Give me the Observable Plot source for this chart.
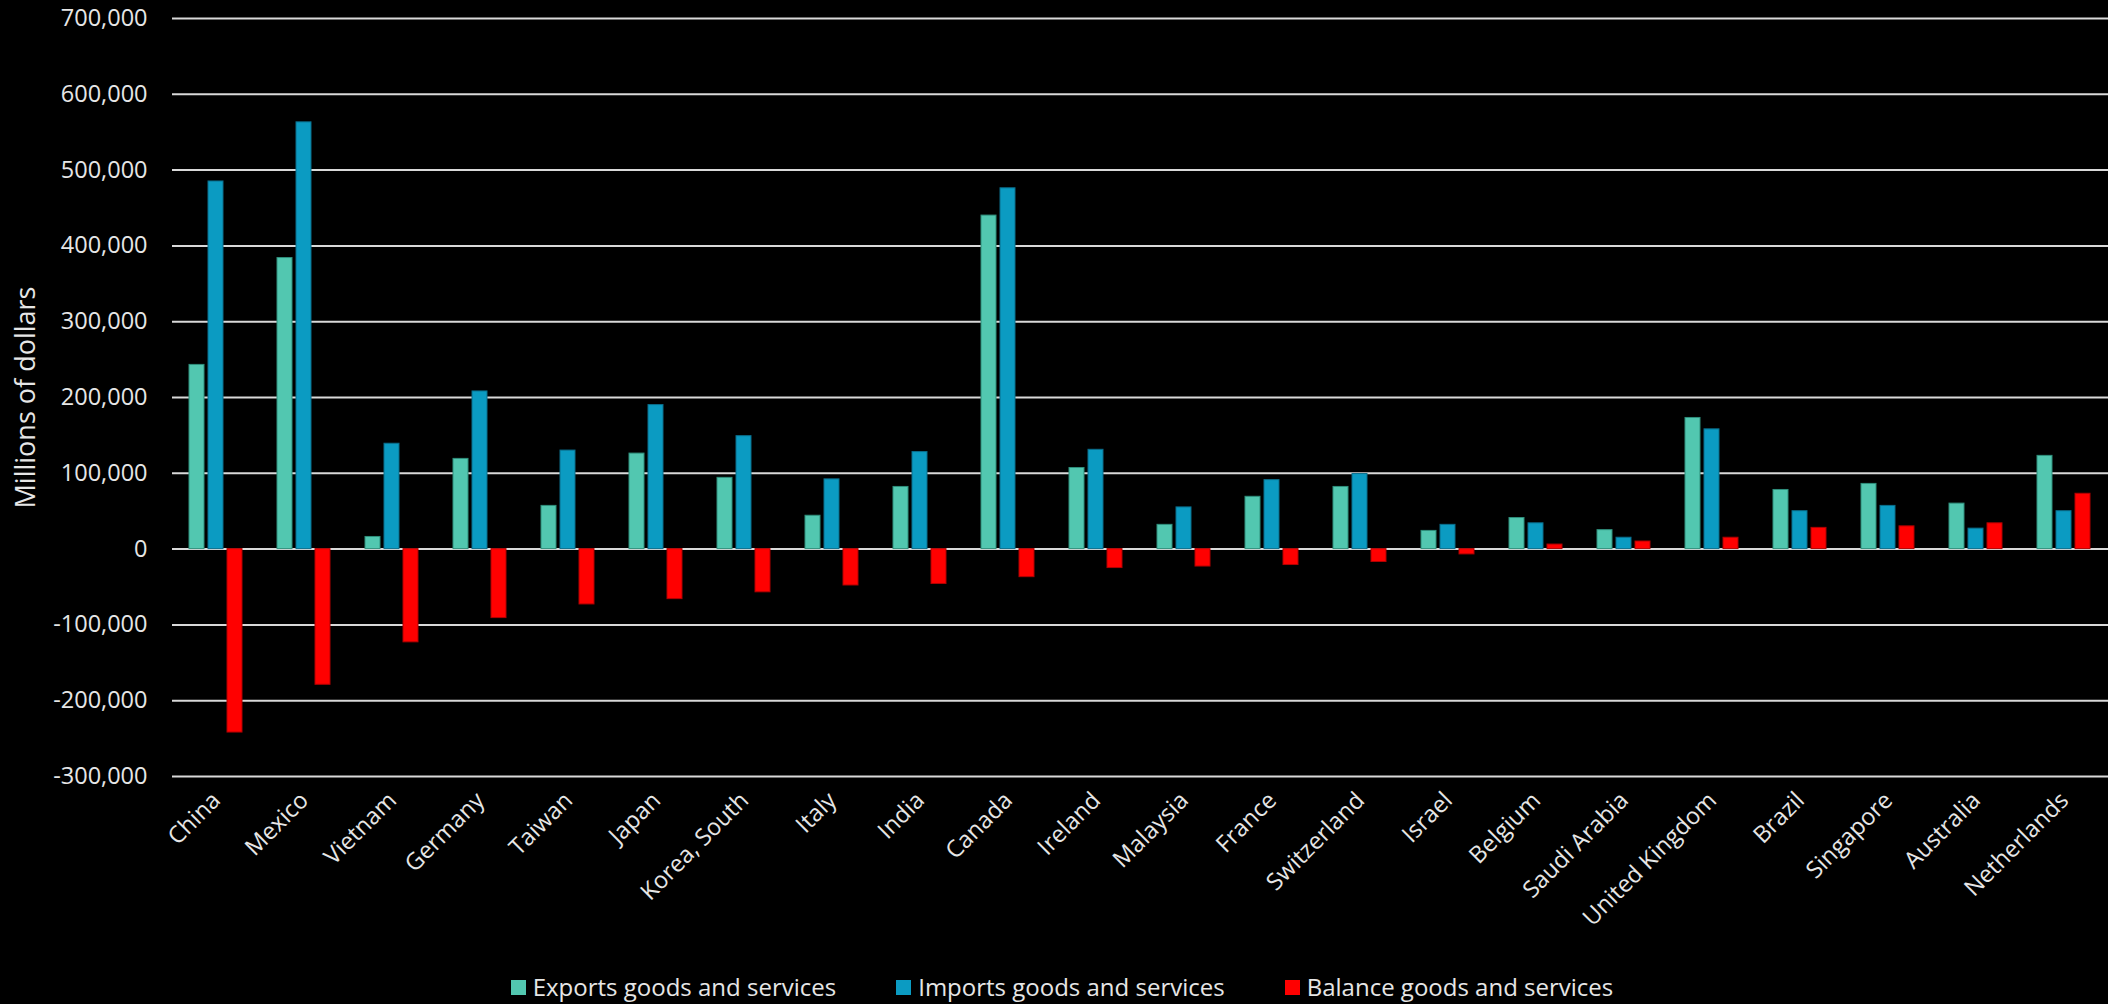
<!DOCTYPE html>
<html>
<head>
<meta charset="utf-8">
<script src="https://cdn.jsdelivr.net/npm/d3@7"></script>
<script src="https://cdn.jsdelivr.net/npm/@observablehq/plot@0.6"></script>
<style>
  html, body { margin: 0; padding: 0; background: #000; }
  body { width: 2108px; height: 1004px; overflow: hidden; font-family: "Open Sans", sans-serif; }
  #legend { display: flex; justify-content: center; gap: 60px; padding-top: 32px; height: 30px; line-height: 30px; color: #e6e6e6; font-size: 24px; margin-left: 16px; }
  .item { display: flex; align-items: center; white-space: nowrap; }
  .sw { width: 15px; height: 15px; margin-right: 7px; display: inline-block; }
</style>
</head>
<body>
<div id="chart"></div>
<div id="legend"></div>
<script>
const countries = ["China","Mexico","Vietnam","Germany","Taiwan","Japan","Korea, South","Italy","India","Canada","Ireland","Malaysia","France","Switzerland","Israel","Belgium","Saudi Arabia","United Kingdom","Brazil","Singapore","Australia","Netherlands"];
const exportsVals = [243000, 384000, 16000, 119000, 57000, 126000, 94000, 44000, 82000, 440000, 107000, 32000, 69000, 82000, 24000, 41000, 25000, 173000, 78000, 86000, 60000, 123000];
const importsVals = [485000, 563000, 139000, 208000, 130000, 190000, 149000, 92000, 128000, 476000, 131000, 55000, 91000, 99000, 32000, 34000, 15000, 158000, 50000, 57000, 27000, 50000];
const balanceVals = [-242000, -179000, -123000, -91000, -73000, -66000, -57000, -48000, -46000, -37000, -25000, -23000, -21000, -17000, -7000, 6000, 10000, 15000, 28000, 30000, 34000, 73000];
const seriesNames = ["Exports goods and services", "Imports goods and services", "Balance goods and services"];
const seriesColors = ["#52c7b0", "#0b9bc2", "#ff0000"];
const seriesStrokes = ["#2f8f7c", "#0a6e8c", "#b00000"];
const yTicks = [-300000, -200000, -100000, 0, 100000, 200000, 300000, 400000, 500000, 600000, 700000];

const seriesValues = [exportsVals, importsVals, balanceVals];
const data = countries.flatMap((c, i) => seriesNames.map((s, k) => ({country: c, series: s, value: seriesValues[k][i]})));

const fmt = d3.format(",");
const fmtHyphen = d => fmt(d).replace("\u2212", "-");

const chart = Plot.plot({
  width: 2108,
  height: 940,
  marginTop: 18,
  marginLeft: 172,
  marginRight: 0,
  marginBottom: 164,
  style: { background: "#000", color: "#d9d9d9", fontFamily: "Open Sans", fontSize: "23.5px" },
  fx: { domain: countries, padding: 0, label: null },
  x: { domain: seriesNames, paddingInner: 0.205, paddingOuter: 0.853, axis: null },
  y: { domain: [-300000, 700000], label: null },
  marks: [
    Plot.gridY(yTicks, { stroke: "#d9d9d9", strokeOpacity: 1, strokeWidth: 2 }),
    ...seriesNames.map((s, k) => Plot.barY(data.filter(d => d.series === s), {
      fx: "country", x: "series", y: "value",
      fill: seriesColors[k], stroke: seriesStrokes[k], strokeWidth: 1
    })),
    Plot.axisY(yTicks, { tickSize: 0, tickPadding: 25, tickFormat: fmtHyphen, fontSize: 23.5, label: null, fill: "#e6e6e6" }),
    Plot.axisY({ ticks: [], label: "Millions of dollars", labelAnchor: "center", labelArrow: "none", labelOffset: 157, fontSize: 27, fill: "#e6e6e6" }),
    Plot.axisFx({ anchor: "bottom", tickRotate: -45, tickSize: 0, tickPadding: 20, fontSize: 23.5, label: null, fill: "#e6e6e6" })
  ]
});
document.getElementById("chart").appendChild(chart);

const legend = document.getElementById("legend");
seriesNames.forEach((s, k) => {
  const item = document.createElement("div");
  item.className = "item";
  const sw = document.createElement("span");
  sw.className = "sw";
  sw.style.background = seriesColors[k];
  item.appendChild(sw);
  item.appendChild(document.createTextNode(s));
  legend.appendChild(item);
});
</script>
</body>
</html>
